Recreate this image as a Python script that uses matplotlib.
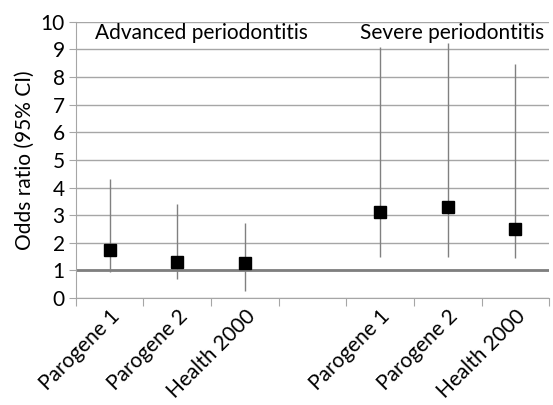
import numpy as np
import matplotlib.pyplot as plt

plt.rcParams['font.family'] = ['Lato', 'DejaVu Sans']

# categories (index 3 is the empty gap between the two groups)
categories = ['Parogene 1', 'Parogene 2', 'Health 2000', '',
              'Parogene 1', 'Parogene 2', 'Health 2000']
odds = [1.74, 1.32, 1.26, np.nan, 3.13, 3.30, 2.50]
ci_low = [0.95, 0.68, 0.26, np.nan, 1.50, 1.50, 1.44]
ci_high = [4.31, 3.41, 2.73, np.nan, 9.08, 9.25, 8.47]
group_labels = ['Advanced periodontitis', 'Severe periodontitis']

odds = np.array(odds)
ci_low = np.array(ci_low)
ci_high = np.array(ci_high)
x = np.arange(len(categories)) + 0.5

fig = plt.figure(figsize=(5.53, 4.05), dpi=100)
ax = fig.add_axes([0.137, 0.264, 0.856, 0.682])

grid_col = '#a6a6a6'
for y in range(0, 11):
    ax.axhline(y, color=grid_col, lw=1.0, zorder=1)
ax.axhline(1, color='#7f7f7f', lw=2.0, zorder=2)

ax.vlines(x, ci_low, ci_high, color='#808080', lw=1.0, zorder=3)
ax.plot(x, odds, ls='none', marker='s', ms=9, color='black', zorder=4)

fs = 15
ax.set_xlim(0, len(categories))
ax.set_ylim(0, 10)
ax.set_yticks(range(0, 11))
ax.tick_params(axis='y', labelsize=fs, length=5, color=grid_col, pad=3)

ax.set_xticks(np.arange(len(categories) + 1))
ax.set_xticklabels([])
ax.tick_params(axis='x', which='major', length=6, color=grid_col)
ax.set_xticks(x, minor=True)
ax.set_xticklabels(categories, minor=True, rotation=45, ha='right',
                   rotation_mode='anchor', fontsize=fs)
ax.tick_params(axis='x', which='minor', length=0, pad=6)

for side in ['top', 'right']:
    ax.spines[side].set_visible(False)
ax.spines['left'].set_color(grid_col)
ax.spines['bottom'].set_color(grid_col)

ax.set_ylabel('Odds ratio (95% CI)', fontsize=fs, labelpad=4)

ax.text(1.86, 9.6, group_labels[0], ha='center', va='center', fontsize=fs)
ax.text(5.56, 9.6, group_labels[1], ha='center', va='center', fontsize=fs)

plt.savefig('out.png', dpi=100)
plt.close()
